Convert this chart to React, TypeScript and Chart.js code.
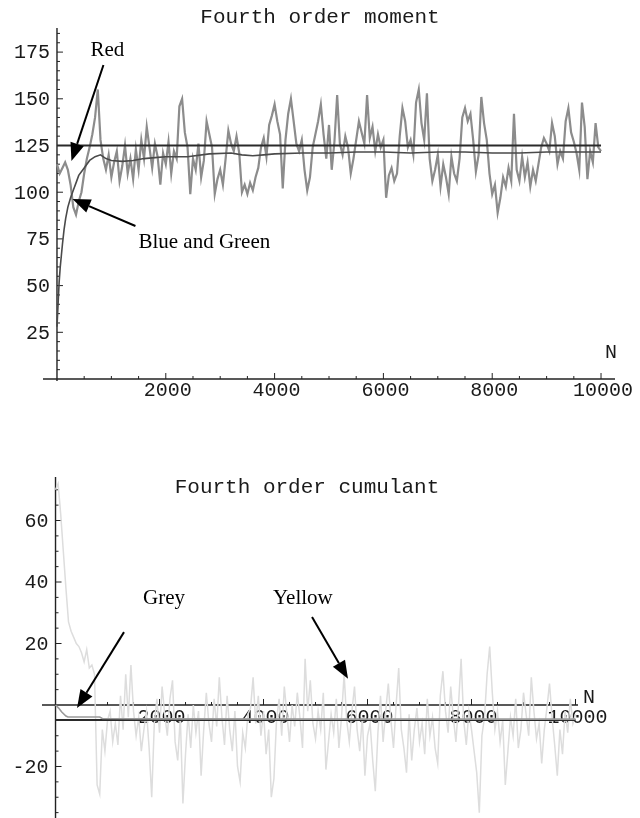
import React, { useEffect, useRef } from "react";
import { Chart, registerables } from "chart.js";
Chart.register(...registerables);

// ---------- data ----------
const STEP = 50; // sample spacing of the noisy series along N

// Fourth order moment: noisy estimate, N = 0, 50, ..., 10000
const momentNoisy = [
  115, 110, 113, 116, 112, 104, 92, 88, 95, 100, 110,
  118, 124, 131, 140, 155, 128, 118, 112, 120, 108,
  116, 122, 106, 114, 125, 110, 118, 107, 123, 112,
  128, 118, 135, 124, 113, 126, 119, 104, 121, 115,
  127, 110, 122, 118, 146, 150, 132, 124, 99, 118,
  112, 126, 108, 117, 138, 131, 124, 99, 107, 112,
  104, 118, 133, 126, 122, 130, 121, 100, 104, 99,
  105, 101, 108, 113, 124, 129, 119, 136, 141, 147,
  138, 131, 102, 128, 142, 150, 138, 126, 122, 128,
  112, 101, 108, 124, 131, 138, 147, 131, 118, 136,
  112, 127, 152, 126, 120, 130, 124, 110, 118, 128,
  138, 132, 126, 152, 129, 135, 122, 131, 124, 128,
  97, 109, 113, 106, 110, 130, 145, 138, 124, 128,
  120, 148, 155, 137, 128, 153, 118, 106, 112, 120,
  103, 115, 108, 99, 119, 110, 106, 118, 140, 145,
  138, 142, 128, 111, 120, 151, 137, 128, 110, 99,
  104, 89, 97, 108, 103, 113, 106, 142, 112, 106,
  119, 108, 116, 103, 112, 106, 115, 124, 129, 126,
  122, 137, 130, 115, 122, 118, 138, 145, 132, 127,
  121, 112, 148, 135, 107, 122, 116, 137, 124, 122,
];

// Fourth order moment: running average
const momentSmoothN = [
  0, 20, 40, 60, 80, 100, 130, 160, 200, 250, 300, 350, 400, 500, 600, 700,
  800, 900, 1000, 1200, 1400, 1600, 1800, 2000, 2400, 2800, 3200, 3400, 3600,
  3800, 4000, 4500, 5000, 5500, 6000, 6500, 7000, 7500, 8000, 8500, 9000,
  9500, 10000,
];
const momentSmoothV = [
  28, 40, 52, 60, 66, 72, 80, 86, 92, 97, 101, 105, 109, 113, 117, 119,
  120, 118, 117, 116.5, 117, 118, 118.5, 119, 119, 120.5, 121, 120, 119.5,
  120, 120.5, 121, 121, 121.5, 121.5, 121, 121.5, 121.5, 121, 121, 121.5,
  121.5, 121.5,
];
const momentRef = 125;

// Fourth order cumulant: noisy estimate, N = 0, 50, ..., 10000
const cumulantNoisy = [
  70, 72, 62, 50, 38, 27, 24, 22, 20, 19, 17,
  14, 18, 12, 13, 10, -26, -29, -8, -15, -5,
  -2, -12, -6, -13, 3, -8, 10, -4, 13, -2,
  -10, -4, -15, -8, -2, -14, -30, -6, 2, -9,
  6, -3, -10, 2, 8, -12, -18, -4, -32, -16,
  -3, -14, 0, -9, -2, -23, -8, 4, -6, -12,
  2, -7, 9, -4, -13, 3, -8, -15, -2, -20,
  -25, -9, -14, -3, -1, 9, -6, 3, -10, -2,
  -16, -8, -30, -24, -5, 2, -10, 6, -3, -12,
  0, -7, 4, -4, -14, 15, -2, 8, -6, -11,
  -2, -8, 4, -21, -12, -3, -9, 2, -14, -4,
  10, -5, -12, -2, 6, -8, -15, -4, -23, -10,
  -6, -18, -28, -9, 3, -12, -2, 7, -5, -14,
  0, 12, -8, -14, -22, -3, -18, -8, -1, -12,
  -6, -16, 2, -10, -4, -14, -19, 3, 11, -2,
  -9, 6, -4, -12, 0, 15, -5, -13, -2, -8,
  -15, -22, -35, -10, -4, 10, 19, 4, -8, -2,
  -12, -5, -26, -15, -4, -10, 2, -14, -8, 4,
  -3, -10, 9, -2, -11, -6, -19, -8, -1, 7,
  -4, -13, -23, -8, -16, -2, -9, 2, -6, -3,
];

// Fourth order cumulant: grey running estimate
const cumulantGreyN = [0, 60, 120, 200, 240, 500, 850, 900, 2000, 5000, 10000];
const cumulantGreyV = [0, -1, -2.3, -3.6, -3.9, -3.9, -3.9, -4.4, -4.5, -4.6, -4.6];
const cumulantRef = -4.9;

// ticks
const xTickValues = [2000, 4000, 6000, 8000, 10000];
const xTickLabels = ["2000", "4000", "6000", "8000", "10000"];
const momentYTicks = [25, 50, 75, 100, 125, 150, 175];
const cumulantYTicks = [-20, 20, 40, 60];

// annotations (data coordinates)
const momentNotes = [
  { text: "Red", n: 615, v: 172.9 },
  { text: "Blue and Green", n: 1497, v: 70.1 },
];
const momentArrows = [
  { fn: 854, fv: 168.1, tn: 266, tv: 116.7 },
  { fn: 1442, fv: 81.9, tn: 285, tv: 96.4 },
];
const cumulantNotes = [
  { text: "Grey", n: 1683, v: 32.8 },
  { text: "Yellow", n: 4183, v: 32.8 },
];
const cumulantArrows = [
  { fn: 1317, fv: 23.7, tn: 413, tv: -1.0 },
  { fn: 4933, fv: 28.6, tn: 5625, tv: 8.5 },
];

// ---------- helpers ----------
const MONO = '"Liberation Mono", "Courier New", monospace';
const SERIF = '"Liberation Serif", "Times New Roman", serif';

function drawArrow(ctx: CanvasRenderingContext2D, x1: number, y1: number, x2: number, y2: number) {
  const ang = Math.atan2(y2 - y1, x2 - x1);
  const hl = 18;
  const hw = 7;
  const bx = x2 - hl * Math.cos(ang);
  const by = y2 - hl * Math.sin(ang);
  ctx.save();
  ctx.strokeStyle = "#000";
  ctx.fillStyle = "#000";
  ctx.lineWidth = 2;
  ctx.beginPath();
  ctx.moveTo(x1, y1);
  ctx.lineTo(bx, by);
  ctx.stroke();
  ctx.beginPath();
  ctx.moveTo(x2, y2);
  ctx.lineTo(bx + hw * Math.sin(ang), by - hw * Math.cos(ang));
  ctx.lineTo(bx - hw * Math.sin(ang), by + hw * Math.cos(ang));
  ctx.closePath();
  ctx.fill();
  ctx.restore();
}

type PanelCfg = {
  title: string;
  titleX: number;
  titleY: number;
  yTicks: number[];
  yMinorMin: number;
  yMinorMax: number;
  yAxisToBottom: boolean;
  nX: number;
  nDy: number;
  labelDy: number;
  notes: { text: string; n: number; v: number }[];
  arrows: { fn: number; fv: number; tn: number; tv: number }[];
};

function makePlugin(cfg: PanelCfg) {
  return {
    id: "mathAxes",
    beforeDatasetsDraw(chart: any) {
      const ctx: CanvasRenderingContext2D = chart.ctx;
      const xs = chart.scales.x;
      const ys = chart.scales.y;
      const ca = chart.chartArea;
      const x0 = xs.getPixelForValue(0);
      const y0 = ys.getPixelForValue(0);
      ctx.save();
      ctx.strokeStyle = "#222";
      ctx.lineWidth = 1.4;
      ctx.beginPath();
      ctx.moveTo(ca.left, y0);
      ctx.lineTo(ca.right, y0);
      ctx.stroke();
      ctx.beginPath();
      ctx.moveTo(x0, ca.top);
      ctx.lineTo(x0, cfg.yAxisToBottom ? ca.bottom : y0 + 2);
      ctx.stroke();
      ctx.lineWidth = 1;
      // x ticks (minor every 500, major at labels)
      for (let v = 500; v <= 10000; v += 500) {
        const px = xs.getPixelForValue(v);
        const major = xTickValues.includes(v);
        ctx.beginPath();
        ctx.moveTo(px, y0);
        ctx.lineTo(px, y0 - (major ? 6 : 3));
        ctx.stroke();
      }
      // y ticks (minor every 5)
      for (let v = cfg.yMinorMin; v <= cfg.yMinorMax; v += 5) {
        if (v === 0) continue;
        const py = ys.getPixelForValue(v);
        const major = cfg.yTicks.includes(v);
        ctx.beginPath();
        ctx.moveTo(x0, py);
        ctx.lineTo(x0 + (major ? 6 : 3), py);
        ctx.stroke();
      }
      ctx.fillStyle = "#1a1a1a";
      ctx.font = `20px ${MONO}`;
      ctx.textAlign = "center";
      ctx.textBaseline = "middle";
      xTickValues.forEach((v, i) => {
        ctx.fillText(xTickLabels[i], xs.getPixelForValue(v) + 2, y0 + cfg.labelDy);
      });
      ctx.textAlign = "right";
      cfg.yTicks.forEach((v) => {
        ctx.fillText(String(v), x0 - 7, ys.getPixelForValue(v) + 1);
      });
      // N label
      ctx.textAlign = "center";
      ctx.textBaseline = "alphabetic";
      ctx.fillText("N", cfg.nX, y0 - cfg.nDy);
      // title
      ctx.font = `21px ${MONO}`;
      ctx.fillText(cfg.title, cfg.titleX, cfg.titleY);
      ctx.restore();
    },
    afterDatasetsDraw(chart: any) {
      const ctx: CanvasRenderingContext2D = chart.ctx;
      const xs = chart.scales.x;
      const ys = chart.scales.y;
      ctx.save();
      ctx.fillStyle = "#000";
      ctx.font = `21px ${SERIF}`;
      ctx.textAlign = "left";
      ctx.textBaseline = "alphabetic";
      cfg.notes.forEach((n) => {
        ctx.fillText(n.text, xs.getPixelForValue(n.n), ys.getPixelForValue(n.v));
      });
      cfg.arrows.forEach((a) => {
        drawArrow(
          ctx,
          xs.getPixelForValue(a.fn),
          ys.getPixelForValue(a.fv),
          xs.getPixelForValue(a.tn),
          ys.getPixelForValue(a.tv)
        );
      });
      ctx.restore();
    },
  };
}

function lineDs(data: { x: number; y: number }[], color: string, width: number) {
  return {
    data,
    borderColor: color,
    borderWidth: width,
    pointRadius: 0,
    fill: false,
    tension: 0,
  };
}

function MomentChart() {
  const ref = useRef<HTMLCanvasElement>(null);
  useEffect(() => {
    const noisy = momentNoisy.map((v, i) => ({ x: i * STEP, y: v }));
    const smooth = momentSmoothN.map((n, i) => ({ x: n, y: momentSmoothV[i] }));
    const refLine = [
      { x: 0, y: momentRef },
      { x: 10000, y: momentRef },
    ];
    const chart = new Chart(ref.current!, {
      type: "line",
      data: {
        datasets: [
          lineDs(refLine, "#2a2a2a", 2),
          lineDs(smooth, "#4a4a4a", 1.6),
          lineDs(noisy, "#8c8c8c", 2.2),
        ],
      },
      options: {
        responsive: false,
        animation: false,
        events: [],
        devicePixelRatio: 1,
        layout: { padding: { left: 43, right: 25, top: 28, bottom: 28 } },
        plugins: { legend: { display: false }, tooltip: { enabled: false } },
        scales: {
          x: { type: "linear", display: false, min: -257, max: 10257 },
          y: { type: "linear", display: false, min: -1.6, max: 187.9 },
        },
      },
      plugins: [
        makePlugin({
          title: "Fourth order moment",
          titleX: 320,
          titleY: 23,
          yTicks: momentYTicks,
          yMinorMin: 5,
          yMinorMax: 185,
          yAxisToBottom: false,
          nX: 611,
          nDy: 21,
          labelDy: 12,
          notes: momentNotes,
          arrows: momentArrows,
        }),
      ],
    } as any);
    return () => chart.destroy();
  }, []);
  return <canvas ref={ref} width={640} height={410} style={{ display: "block" }} />;
}

function CumulantChart() {
  const ref = useRef<HTMLCanvasElement>(null);
  useEffect(() => {
    const noisy = cumulantNoisy.map((v, i) => ({ x: i * STEP, y: v }));
    const grey = cumulantGreyN.map((n, i) => ({ x: n, y: cumulantGreyV[i] }));
    const refLine = [
      { x: 0, y: cumulantRef },
      { x: 10000, y: cumulantRef },
    ];
    const chart = new Chart(ref.current!, {
      type: "line",
      data: {
        datasets: [
          lineDs(grey, "#9a9a9a", 1.6),
          lineDs(refLine, "#2a2a2a", 2),
          lineDs(noisy, "#dddddd", 1.5),
        ],
      },
      options: {
        responsive: false,
        animation: false,
        events: [],
        devicePixelRatio: 1,
        layout: { padding: { left: 42, right: 62, top: 67, bottom: 0 } },
        plugins: { legend: { display: false }, tooltip: { enabled: false } },
        scales: {
          x: { type: "linear", display: false, min: -260, max: 10048 },
          y: { type: "linear", display: false, min: -36.75, max: 74.15 },
        },
      },
      plugins: [
        makePlugin({
          title: "Fourth order cumulant",
          titleX: 307,
          titleY: 83,
          yTicks: cumulantYTicks,
          yMinorMin: -35,
          yMinorMax: 70,
          yAxisToBottom: true,
          nX: 589,
          nDy: 2,
          labelDy: 13,
          notes: cumulantNotes,
          arrows: cumulantArrows,
        }),
      ],
    } as any);
    return () => chart.destroy();
  }, []);
  return <canvas ref={ref} width={640} height={408} style={{ display: "block" }} />;
}

export default function App() {
  return (
    <div
      style={{
        position: "absolute",
        left: 0,
        top: 0,
        width: 640,
        height: 818,
        background: "#fff",
      }}
    >
      <MomentChart />
      <CumulantChart />
    </div>
  );
}
